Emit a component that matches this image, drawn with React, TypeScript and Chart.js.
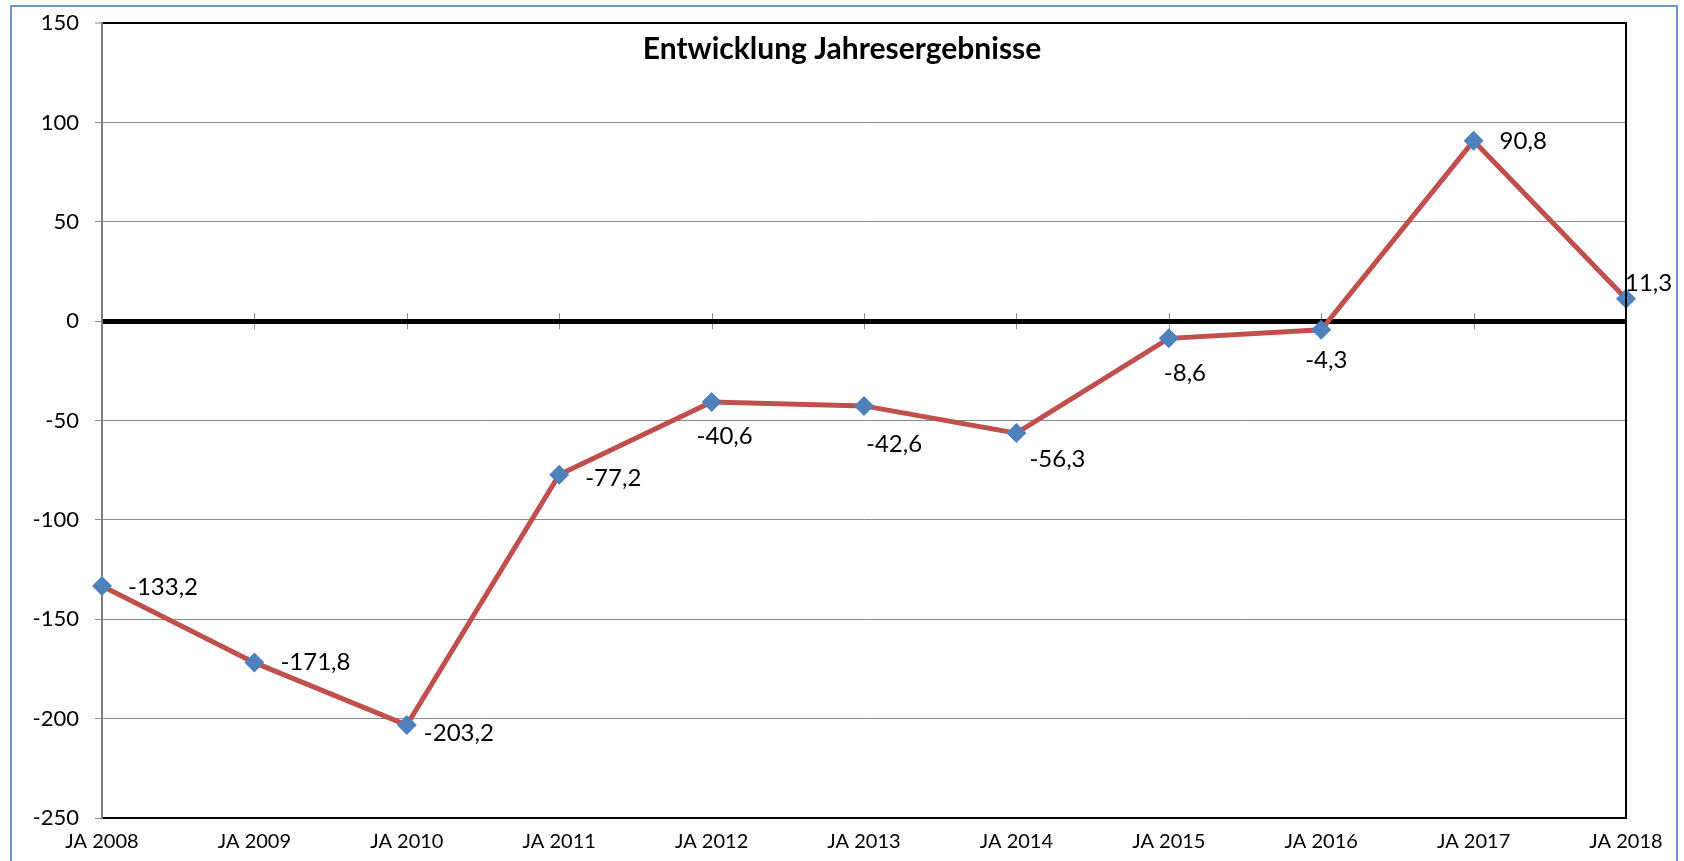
import React, { useEffect, useRef } from 'react';
import { Chart, registerables } from 'chart.js';

Chart.register(...registerables);

const CATEGORIES = ['JA 2008', 'JA 2009', 'JA 2010', 'JA 2011', 'JA 2012', 'JA 2013', 'JA 2014', 'JA 2015', 'JA 2016', 'JA 2017', 'JA 2018'];
const RESULTS = [-133.2, -171.8, -203.2, -77.2, -40.6, -42.6, -56.3, -8.6, -4.3, 90.8, 11.3];
const Y_MIN = -250;
const Y_MAX = 150;
const Y_STEP = 50;
const TITLE = 'Entwicklung Jahresergebnisse';

// label offsets (dx, dy) relative to each point, in pixels
const LABEL_OFFSETS: [number, number][] = [
  [26, 1], [26, 0], [17, 8], [26, 4], [-15, 34], [2, 38], [13, 26], [-5, 35], [-16, 30], [26, 0], [-1, -16],
];

const FONT = 'Lato, "Open Sans", "DejaVu Sans", sans-serif';

const fmt = (v: number) => v.toFixed(1).replace('.', ',');

const decor = {
  id: 'decor',
  beforeDraw(chart: any) {
    const { ctx, scales } = chart;
    const y0 = scales.y.getPixelForValue(0);
    ctx.save();
    ctx.strokeStyle = '#8a8a8a';
    ctx.lineWidth = 1;
    for (let i = 0; i < CATEGORIES.length; i++) {
      const x = Math.round(scales.x.getPixelForValue(i)) + 0.5;
      ctx.beginPath();
      ctx.moveTo(x, y0 - 8);
      ctx.lineTo(x, y0 + 8);
      ctx.stroke();
    }
    ctx.restore();
  },
  afterDatasetsDraw(chart: any) {
    const { ctx, chartArea } = chart;
    ctx.save();
    // right border
    ctx.strokeStyle = '#000';
    ctx.lineWidth = 2;
    ctx.beginPath();
    ctx.moveTo(chartArea.right, chartArea.top - 1);
    ctx.lineTo(chartArea.right, chartArea.bottom + 1);
    ctx.stroke();

    // data labels
    const meta = chart.getDatasetMeta(0);
    ctx.fillStyle = '#000';
    ctx.font = `24px ${FONT}`;
    ctx.textAlign = 'left';
    ctx.textBaseline = 'middle';
    meta.data.forEach((pt: any, i: number) => {
      const [dx, dy] = LABEL_OFFSETS[i];
      ctx.fillText(fmt(RESULTS[i]), pt.x + dx, pt.y + dy);
    });

    // title inside plot
    ctx.font = `bold 30px ${FONT}`;
    ctx.textAlign = 'center';
    ctx.textBaseline = 'alphabetic';
    ctx.fillText(TITLE, chartArea.left + 0.4856 * (chartArea.right - chartArea.left), chartArea.top + 36);
    ctx.restore();
  },
};

export default function App() {
  const ref = useRef<HTMLCanvasElement>(null);

  useEffect(() => {
    if (!ref.current) return;
    const chart = new Chart(ref.current, {
      type: 'line',
      data: {
        labels: CATEGORIES,
        datasets: [
          {
            data: RESULTS,
            borderColor: '#C0504D',
            borderWidth: 5,
            pointStyle: 'rectRot',
            pointRadius: 10,
            pointBackgroundColor: '#4F81BD',
            pointBorderColor: '#4F81BD',
            pointBorderWidth: 0,
            tension: 0,
          },
        ],
      },
      options: {
        responsive: false,
        animation: false,
        layout: { padding: { left: 0, top: 16, right: 58, bottom: 0 } },
        plugins: {
          legend: { display: false },
          tooltip: { enabled: false },
          title: { display: false },
        },
        scales: {
          x: {
            type: 'category',
            offset: false,
            grid: { display: false, drawTicks: false },
            border: { display: true, color: '#000', width: 2 },
            ticks: {
              color: '#000',
              font: { family: FONT, size: 20 },
              padding: 12,
              maxRotation: 0,
              autoSkip: false,
            },
            afterFit: (s: any) => { s.height = 43; },
          },
          y: {
            min: Y_MIN,
            max: Y_MAX,
            ticks: {
              stepSize: Y_STEP,
              color: '#000',
              font: { family: FONT, size: 22 },
              padding: 16,
              callback: (v: any) => String(v),
            },
            grid: {
              color: (c: any) => (c.tick && (c.tick.value === 0 || c.tick.value === Y_MAX) ? '#000' : '#8a8a8a'),
              lineWidth: (c: any) => (c.tick && c.tick.value === 0 ? 5 : c.tick && c.tick.value === Y_MAX ? 2 : 1),
              tickColor: '#8a8a8a',
              tickWidth: 1,
              tickLength: 7,
            },
            border: { display: true, color: '#7f7f7f', width: 2 },
            afterFit: (s: any) => { s.width = 102; },
          },
        },
      },
      plugins: [decor],
    });
    return () => chart.destroy();
  }, []);

  return (
    <div style={{ position: 'absolute', left: 0, top: 0, width: 1684, height: 861, overflow: 'hidden', background: '#fff' }}>
      <div
        style={{
          position: 'absolute',
          left: 10,
          top: 5,
          width: 1668,
          height: 900,
          border: '2px solid #6F94CC',
          boxSizing: 'border-box',
        }}
      />
      <canvas ref={ref} width={1684} height={867} style={{ position: 'absolute', left: 0, top: -6, display: 'block' }} />
    </div>
  );
}
